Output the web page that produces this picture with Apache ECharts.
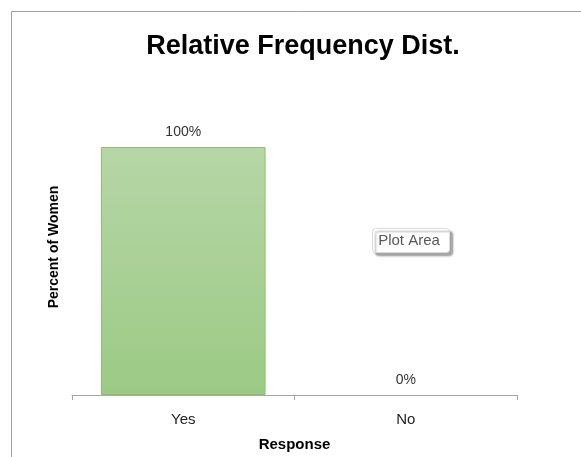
<!DOCTYPE html>
<html>
<head>
<meta charset="utf-8">
<script src="https://cdn.jsdelivr.net/npm/echarts@6/dist/echarts.min.js"></script>
<style>
  html, body { margin: 0; padding: 0; background: #fff; }
  #chart { width: 581px; height: 457px; }
</style>
</head>
<body>
<div id="chart"></div>
<script>
var categories = ['Yes', 'No'];
var percentWomen = [1.0, 0.0];

var myChart = echarts.init(document.getElementById('chart'));
var font = 'Liberation Sans';

option = {
    backgroundColor: '#fff',
    title: {
        text: 'Relative Frequency Dist.',
        left: 298,
        textAlign: 'center',
        top: 28,
        textStyle: { fontFamily: font, fontSize: 27, fontWeight: 'bold', color: '#000' }
    },
    grid: { left: 72, right: 64, top: 147, bottom: 61 },
    xAxis: {
        type: 'category',
        data: categories,
        name: 'Response',
        nameLocation: 'middle',
        nameGap: 42,
        nameTextStyle: { fontFamily: font, fontSize: 15, fontWeight: 'bold', color: '#000' },
        axisLine: { lineStyle: { color: '#a6a6a6', width: 1 } },
        axisTick: { show: true, length: 5, lineStyle: { color: '#a6a6a6' } },
        axisLabel: { fontFamily: font, fontSize: 15, color: '#222', margin: 17 }
    },
    yAxis: {
        type: 'value',
        min: 0,
        max: 1,
        name: 'Percent of Women',
        nameLocation: 'middle',
        nameGap: 11,
        nameTextStyle: {
            fontFamily: font, fontSize: 14, fontWeight: 'bold', color: '#000',
            padding: [0, 0, 0, 48]
        },
        axisLine: { show: false },
        axisTick: { show: false },
        axisLabel: { show: false },
        splitLine: { show: false }
    },
    series: [
        {
            name: 'Percent of Women',
            type: 'bar',
            data: percentWomen.map(function (v) {
                return { value: v, itemStyle: { borderWidth: v > 0 ? 1 : 0 } };
            }),
            barWidth: '74%',
            itemStyle: {
                color: new echarts.graphic.LinearGradient(0, 0, 0, 1, [
                    { offset: 0, color: '#b6d6a6' },
                    { offset: 1, color: '#9cca85' }
                ]),
                borderColor: '#8cc06e'
            },
            label: {
                show: true,
                position: 'top',
                distance: 8,
                fontFamily: font,
                fontSize: 14,
                color: '#333',
                formatter: function (p) { return Math.round(p.value * 100) + '%'; }
            }
        }
    ],
    graphic: [
        {
            type: 'rect',
            shape: { x: 11.5, y: 11.5, width: 600, height: 500 },
            style: { fill: null, stroke: '#a0a0a0', lineWidth: 1 },
            silent: true
        },
        {
            type: 'rect',
            shape: { x: 372.5, y: 228.5, width: 77, height: 24, r: 3 },
            style: {
                fill: '#fff', stroke: '#dcdcdc', lineWidth: 1,
                shadowColor: 'rgba(0,0,0,0.35)', shadowBlur: 2, shadowOffsetX: 3, shadowOffsetY: 3
            },
            z: 10
        },
        {
            type: 'text',
            x: 409, y: 240.5,
            style: {
                text: 'Plot Area', fontFamily: font, fontSize: 15, fill: '#595959',
                align: 'center', verticalAlign: 'middle'
            },
            z: 11
        }
    ]
};
myChart.setOption(option);
</script>
</body>
</html>
